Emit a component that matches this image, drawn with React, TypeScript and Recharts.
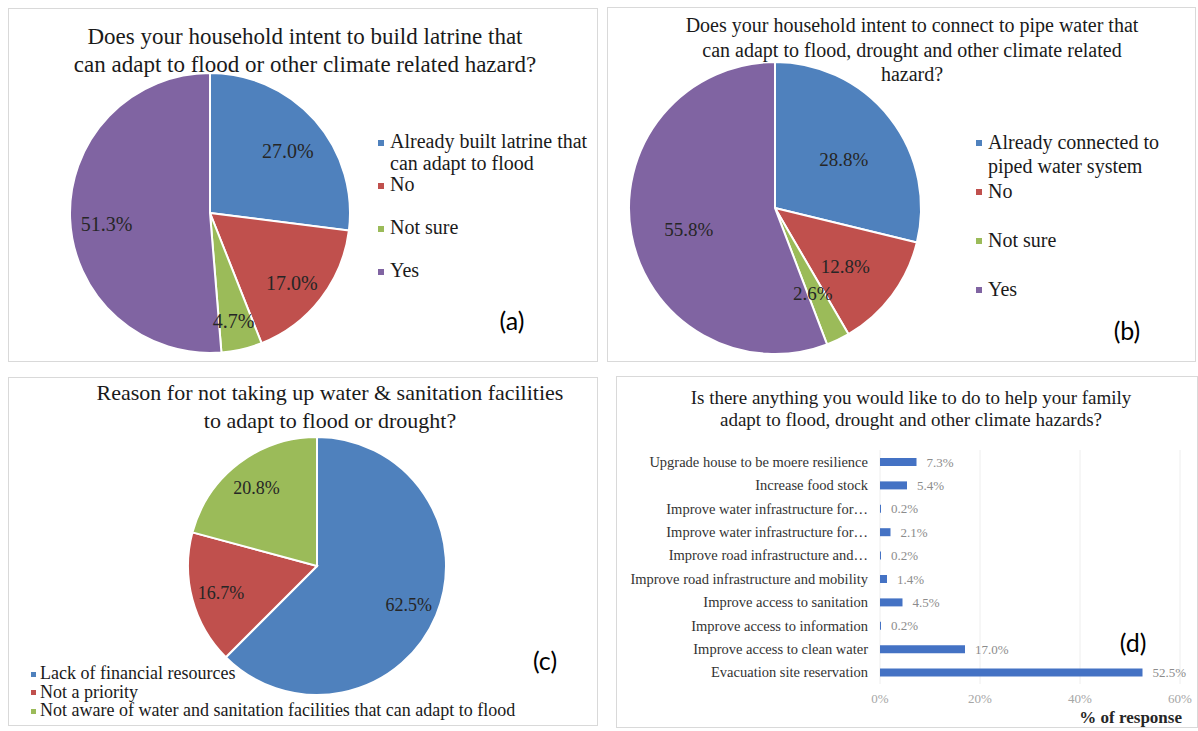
import React from 'react';
import { PieChart, Pie, Cell, BarChart, Bar, XAxis, YAxis, CartesianGrid, LabelList } from 'recharts';

const SERIF = '"Liberation Serif", "Times New Roman", serif';
const SANS = 'Lato, "Open Sans", sans-serif';
const PIE_COLORS = ['#4F81BD', '#C0504D', '#9BBB59', '#8064A2'];
const BAR_COLOR = '#4472C4';

// (a)
const latrineTitle = ['Does your household intent to build latrine that', 'can adapt to flood or other climate related hazard?'];
const latrineCategories = ['Already built latrine that can adapt to flood', 'No', 'Not sure', 'Yes'];
const latrineValues = [27.0, 17.0, 4.7, 51.3];

// (b)
const pipeTitle = [
  'Does your household intent to connect to pipe water that',
  'can adapt to flood, drought and other climate related',
  'hazard?',
];
const pipeCategories = ['Already connected to piped water system', 'No', 'Not sure', 'Yes'];
const pipeValues = [28.8, 12.8, 2.6, 55.8];

// (c)
const reasonTitle = ['Reason for not taking up water & sanitation facilities', 'to adapt to flood or drought?'];
const reasonCategories = [
  'Lack of financial resources',
  'Not a priority',
  'Not aware of water and sanitation facilities that can adapt to flood',
];
const reasonValues = [62.5, 16.7, 20.8];

// (d)
const actionTitle = ['Is there anything you would like to do to help your family', 'adapt to flood, drought and other climate hazards?'];
const actionCategories = [
  'Upgrade house to be moere resilience',
  'Increase food stock',
  'Improve water infrastructure for…',
  'Improve water infrastructure for… ',
  'Improve road infrastructure and…',
  'Improve road infrastructure and mobility',
  'Improve access to sanitation',
  'Improve access to information',
  'Improve access to clean water',
  'Evacuation site reservation',
];
const actionValues = [7.3, 5.4, 0.2, 2.1, 0.2, 1.4, 4.5, 0.2, 17.0, 52.5];
const xTicks = [0, 20, 40, 60];
const xAxisTitle = '% of response';

const RAD = Math.PI / 180;

const makeLabel = (factor: number, fontSize: number, dy: number) => (props: any) => {
  const { cx, cy, midAngle, outerRadius, value } = props;
  const r = outerRadius * factor;
  const x = cx + r * Math.cos(-midAngle * RAD);
  const y = cy + r * Math.sin(-midAngle * RAD) + dy;
  return (
    <text x={x} y={y} textAnchor="middle" dominantBaseline="central" fill="#262626" fontSize={fontSize} fontFamily={SERIF}>
      {Number(value).toFixed(1)}%
    </text>
  );
};

const frame = (left: number, top: number, width: number, height: number): React.CSSProperties => ({
  position: 'absolute',
  left,
  top,
  width,
  height,
  border: '1px solid #d9d9d9',
  boxSizing: 'border-box',
  background: '#fff',
});

function Title({ lines, cx, top, fontSize, lineHeight }: { lines: string[]; cx: number; top: number; fontSize: number; lineHeight: number }) {
  return (
    <div
      style={{
        position: 'absolute',
        left: cx - 300,
        top,
        width: 600,
        textAlign: 'center',
        fontFamily: SERIF,
        fontSize,
        lineHeight: `${lineHeight}px`,
        color: '#1a1a1a',
        whiteSpace: 'nowrap',
      }}
    >
      {lines.map((l, i) => (
        <div key={i}>{l}</div>
      ))}
    </div>
  );
}

function SideLegend({ names, left, top, textWidth, fontSize, lineHeight, slot, square, gap }: any) {
  return (
    <div style={{ position: 'absolute', left, top, fontFamily: SERIF, fontSize, lineHeight: `${lineHeight}px`, color: '#1a1a1a' }}>
      {names.map((n: string, i: number) => (
        <div key={i} style={{ display: 'flex', alignItems: 'flex-start', height: slot }}>
          <div
            style={{
              width: square,
              height: square,
              background: PIE_COLORS[i],
              marginTop: lineHeight / 2 - square / 2 + 1,
              marginRight: gap,
              flex: 'none',
            }}
          />
          <div style={{ width: textWidth }}>{n}</div>
        </div>
      ))}
    </div>
  );
}

function PanelTag({ text, x, y }: { text: string; x: number; y: number }) {
  return (
    <div style={{ position: 'absolute', left: x - 30, top: y - 16, width: 60, textAlign: 'center', fontFamily: SANS, fontSize: 25, lineHeight: '32px', color: '#000' }}>
      {text}
    </div>
  );
}

export default function App() {
  const latrineData = latrineCategories.map((name, i) => ({ name, value: latrineValues[i] }));
  const pipeData = pipeCategories.map((name, i) => ({ name, value: pipeValues[i] }));
  const reasonData = reasonCategories.map((name, i) => ({ name, value: reasonValues[i] }));
  const actionData = actionCategories.map((name, i) => ({ name, value: actionValues[i] }));

  return (
    <div style={{ position: 'absolute', left: 0, top: 0, width: 1198, height: 731, background: '#fff', overflow: 'hidden' }}>
      {/* Panel (a) */}
      <div style={frame(8, 8, 590, 354)} />
      <div style={{ position: 'absolute', left: 0, top: 0 }}>
        <PieChart width={600} height={370} margin={{ top: 0, right: 0, bottom: 0, left: 0 }}>
          <Pie
            data={latrineData}
            dataKey="value"
            nameKey="name"
            cx={210}
            cy={213}
            outerRadius={140}
            startAngle={90}
            endAngle={-270}
            stroke="#fff"
            strokeWidth={2}
            labelLine={false}
            label={makeLabel(0.74, 20, 7)}
            isAnimationActive={false}
          >
            {latrineData.map((_, i) => (
              <Cell key={i} fill={PIE_COLORS[i]} />
            ))}
          </Pie>
        </PieChart>
      </div>
      <Title lines={latrineTitle} cx={305} top={23} fontSize={23} lineHeight={27.5} />
      <SideLegend names={latrineCategories} left={378} top={131} textWidth={205} fontSize={20} lineHeight={21.5} slot={43} square={6} gap={6} />
      <PanelTag text="(a)" x={512} y={320} />

      {/* Panel (b) */}
      <div style={frame(607, 7, 589, 355)} />
      <div style={{ position: 'absolute', left: 600, top: 0 }}>
        <PieChart width={598} height={370} margin={{ top: 0, right: 0, bottom: 0, left: 0 }}>
          <Pie
            data={pipeData}
            dataKey="value"
            nameKey="name"
            cx={175}
            cy={208}
            outerRadius={146}
            startAngle={90}
            endAngle={-270}
            stroke="#fff"
            strokeWidth={2}
            labelLine={false}
            label={makeLabel(0.6, 19, 6)}
            isAnimationActive={false}
          >
            {pipeData.map((_, i) => (
              <Cell key={i} fill={PIE_COLORS[i]} />
            ))}
          </Pie>
        </PieChart>
      </div>
      <Title lines={pipeTitle} cx={912} top={13} fontSize={20} lineHeight={24.5} />
      <SideLegend names={pipeCategories} left={976} top={130} textWidth={205} fontSize={20} lineHeight={24} slot={49} square={6} gap={6} />
      <PanelTag text="(b)" x={1127} y={330} />

      {/* Panel (c) */}
      <div style={frame(8, 377, 590, 349)} />
      <div style={{ position: 'absolute', left: 0, top: 370 }}>
        <PieChart width={600} height={361} margin={{ top: 0, right: 0, bottom: 0, left: 0 }}>
          <Pie
            data={reasonData}
            dataKey="value"
            nameKey="name"
            cx={317}
            cy={196}
            outerRadius={129}
            startAngle={90}
            endAngle={-270}
            stroke="#fff"
            strokeWidth={2}
            labelLine={false}
            label={makeLabel(0.77, 18, 1)}
            isAnimationActive={false}
          >
            {reasonData.map((_, i) => (
              <Cell key={i} fill={PIE_COLORS[i]} />
            ))}
          </Pie>
        </PieChart>
      </div>
      <Title lines={reasonTitle} cx={330} top={379} fontSize={22} lineHeight={28} />
      <SideLegend names={reasonCategories} left={31} top={664} textWidth={540} fontSize={18} lineHeight={18.5} slot={18.5} square={5} gap={4} />
      <PanelTag text="(c)" x={545} y={660} />

      {/* Panel (d) */}
      <div style={frame(616, 376, 582, 352)} />
      <Title lines={actionTitle} cx={911} top={387} fontSize={19} lineHeight={22} />
      <div style={{ position: 'absolute', left: 615, top: 440 }}>
        <BarChart
          width={583}
          height={275}
          layout="vertical"
          data={actionData}
          margin={{ top: 10, right: 18, bottom: 0, left: 0 }}
        >
          <CartesianGrid horizontal={false} stroke="#eeeeee" />
          <XAxis
            type="number"
            domain={[0, 60]}
            ticks={xTicks}
            tickFormatter={(v: number) => `${v}%`}
            axisLine={false}
            tickLine={false}
            tickSize={0}
            tickMargin={10}
            height={31}
            tick={{ fontSize: 13, fill: '#a6a6a6', fontFamily: SERIF }}
          />
          <YAxis
            type="category"
            dataKey="name"
            width={265}
            axisLine={false}
            tickLine={false}
            tickSize={0}
            tickMargin={12}
            interval={0}
            tick={{ fontSize: 14.5, fill: '#333333', fontFamily: SERIF }}
          />
          <Bar dataKey="value" fill={BAR_COLOR} barSize={8} isAnimationActive={false}>
            <LabelList
              dataKey="value"
              position="right"
              offset={10}
              formatter={(v: any) => `${Number(v).toFixed(1)}%`}
              style={{ fontSize: 13, fill: '#8c8c8c', fontFamily: SERIF }}
            />
          </Bar>
        </BarChart>
      </div>
      <div
        style={{
          position: 'absolute',
          left: 982,
          top: 708,
          width: 200,
          textAlign: 'right',
          fontFamily: SERIF,
          fontWeight: 'bold',
          fontSize: 17,
          lineHeight: '20px',
          color: '#262626',
        }}
      >
        {xAxisTitle}
      </div>
      <PanelTag text="(d)" x={1133} y={642} />
    </div>
  );
}
